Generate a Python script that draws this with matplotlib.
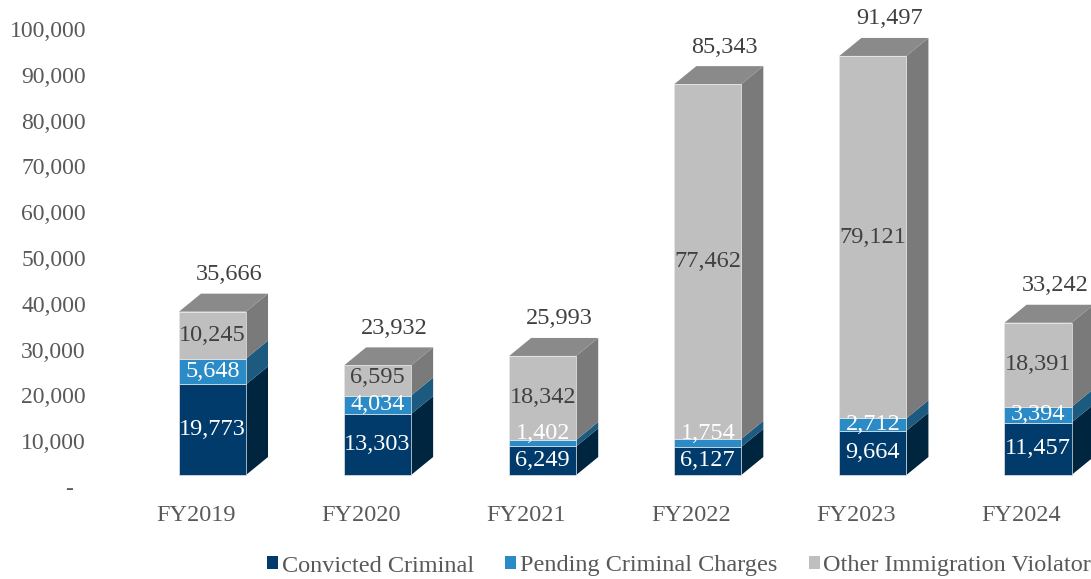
import matplotlib
matplotlib.use("Agg")
import matplotlib.pyplot as plt
from matplotlib.patches import Polygon, Patch
from matplotlib.transforms import ScaledTranslation

# ---- data -------------------------------------------------------------
categories = ["FY2019", "FY2020", "FY2021", "FY2022", "FY2023", "FY2024"]
convicted = [19773, 13303, 6249, 6127, 9664, 11457]
pending = [5648, 4034, 1402, 1754, 2712, 3394]
other = [10245, 6595, 18342, 77462, 79121, 18391]
series_names = ["Convicted Criminal", "Pending Criminal Charges",
                "Other Immigration Violator"]
y_ticks = [0, 10000, 20000, 30000, 40000, 50000, 60000, 70000, 80000,
           90000, 100000]

# ---- style --------------------------------------------------------------
front_colors = ["#003B6B", "#2A8BC6", "#BFBFBF"]
side_colors = ["#00253F", "#1C5A80", "#7A7A7A"]
top_color = "#8A8A8A"
label_colors = ["white", "white", "#404040"]
tick_color = "#595959"
FS = 17.5

plt.rcParams["font.family"] = ["Liberation Serif", "DejaVu Serif"]

DPI = 100
W, H = 1091, 579
fig = plt.figure(figsize=(W / DPI, H / DPI), dpi=DPI)

left_px, right_px, bottom_px, top_px = 113.45, 1079.3, 487, 29
ax = fig.add_axes([left_px / W, 1 - bottom_px / H,
                   (right_px - left_px) / W, (bottom_px - top_px) / H])
ax.set_xlim(-0.5, 5.35)
ax.set_ylim(0, 100000)
for s in ax.spines.values():
    s.set_visible(False)

# the front faces sit slightly right of / above the category positions
front_tf = ax.transData + ScaledTranslation(16.5 / DPI, 12 / DPI,
                                            fig.dpi_scale_trans)


def px_to_data(dx_px, dy_px):
    inv = ax.transData.inverted()
    x0, y0 = inv.transform((0, 0))
    x1, y1 = inv.transform((dx_px, dy_px))
    return x1 - x0, y1 - y0


depth_x, depth_y = px_to_data(22, 18)
px_per_unit = 1.0 / px_to_data(0, 1)[1]
bar_w = 0.406

xs = list(range(len(categories)))
series = [convicted, pending, other]
bottoms = [0] * len(categories)
label_px = {}  # label centre of each segment, in pixels above the base

for k, vals in enumerate(series):
    ax.bar(xs, vals, width=bar_w, bottom=bottoms, color=front_colors[k],
           edgecolor="#E6E6E6", linewidth=0.5, transform=front_tf,
           clip_on=False, zorder=3)
    for i, v in enumerate(vals):
        b = bottoms[i]
        t = b + v
        xr = xs[i] + bar_w / 2
        side = Polygon([(xr, b), (xr + depth_x, b + depth_y),
                        (xr + depth_x, t + depth_y), (xr, t)],
                       closed=True, facecolor=side_colors[k],
                       edgecolor="none", transform=front_tf,
                       clip_on=False, zorder=2)
        ax.add_patch(side)
        # keep labels of thin segments clear of the one below
        centre = (b + v / 2) * px_per_unit
        below = label_px.get((k - 1, i))
        if below is not None and centre - below < 27:
            centre = below + 27
        label_px[(k, i)] = centre
        shift = centre - (b + v / 2) * px_per_unit
        ax.annotate(f"{v:,}", xy=(xs[i], b + v / 2), xycoords=front_tf,
                    xytext=(0, shift * 0.72), textcoords="offset points",
                    ha="center", va="center", color=label_colors[k],
                    fontsize=FS, zorder=5, annotation_clip=False)
    bottoms = [b + v for b, v in zip(bottoms, vals)]

# top faces and totals
for i, tot in enumerate(bottoms):
    xl = xs[i] - bar_w / 2
    xr = xs[i] + bar_w / 2
    top = Polygon([(xl, tot), (xr, tot), (xr + depth_x, tot + depth_y),
                   (xl + depth_x, tot + depth_y)], closed=True,
                  facecolor=top_color, edgecolor="none",
                  transform=front_tf, clip_on=False, zorder=2)
    ax.add_patch(top)
    ax.annotate(f"{tot:,}", xy=(xs[i], tot), xycoords=front_tf,
                xytext=(17 * 0.72, 37 * 0.72), textcoords="offset points",
                ha="center", va="center", fontsize=FS, color="#404040",
                annotation_clip=False)

# axes ticks
ax.set_xticks(xs)
ax.set_xticklabels(categories)
ax.set_yticks(y_ticks)
ax.set_yticklabels([f"{v:,}" if v else "-  " for v in y_ticks])
ax.tick_params(axis="x", length=0, pad=13, labelsize=FS,
               labelcolor=tick_color)
ax.tick_params(axis="y", length=0, pad=19.8, labelsize=17,
               labelcolor=tick_color)

# legend
handles = [Patch(facecolor=c, edgecolor="none") for c in front_colors]
fig.legend(handles, series_names, loc="center left",
           bbox_to_anchor=(267 / W, 1 - 566 / H), ncol=3, frameon=False,
           fontsize=FS, labelcolor=tick_color, handlelength=0.45,
           handleheight=0.45, handletextpad=0.15, columnspacing=1.3,
           borderpad=0, borderaxespad=0)

fig.savefig("out.png", dpi=DPI)
